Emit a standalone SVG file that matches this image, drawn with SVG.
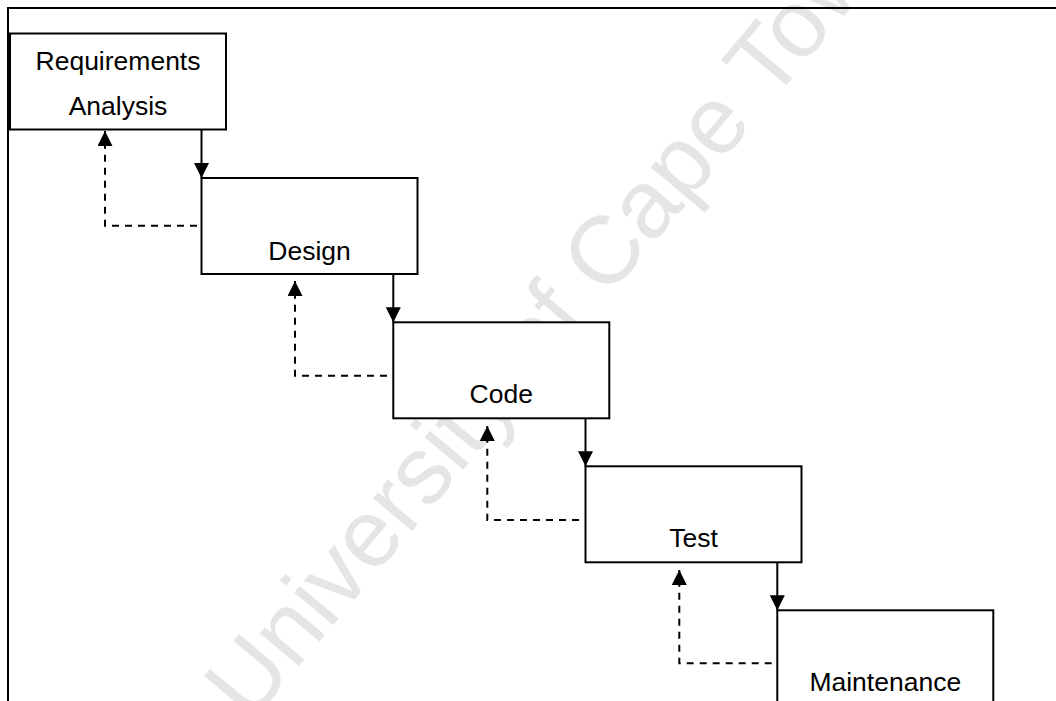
<svg xmlns="http://www.w3.org/2000/svg" width="1056" height="701" viewBox="0 0 1056 701">
  <style>
    .frame { fill: none; stroke: #000; stroke-width: 2; }
    .box { fill: #fff; stroke: #000; stroke-width: 2; }
    .label { font-family: "Liberation Sans", Arial, sans-serif; font-size: 26.5px; fill: #000; text-anchor: middle; }
    .flow { fill: none; stroke: #000; stroke-width: 2; marker-end: url(#head); }
    .back { fill: none; stroke: #000; stroke-width: 2; stroke-dasharray: 7 6; marker-end: url(#head); }
    .mark { font-family: "Liberation Sans", Arial, sans-serif; font-size: 96px; fill: #e5e5e5; }
  </style>
  <defs>
    <marker id="head" markerUnits="userSpaceOnUse" markerWidth="15" markerHeight="15" refX="15" refY="7.5" orient="auto">
      <path d="M0,0 L15,7.5 L0,15 Z" fill="#000" stroke="none"/>
    </marker>
  </defs>

  <rect width="1056" height="701" fill="#fff"/>

  <!-- background watermark, partly hidden behind the boxes -->
  <text class="mark" transform="translate(250,724) rotate(-50)">University of Cape Town</text>

  <!-- page frame (open on the right and bottom) -->
  <path class="frame" d="M8,701 V8 H1056"/>

  <g id="connectors">
    <!-- forward flow -->
    <path class="flow" d="M201.5,129.5 V178"/>
    <path class="flow" d="M393.3,274 V322.3"/>
    <path class="flow" d="M585.5,418.3 V466.3"/>
    <path class="flow" d="M777.3,562.3 V610.3"/>
    <!-- feedback to the previous phase -->
    <path class="back" d="M197,225.7 H105 V131"/>
    <path class="back" d="M387,375.7 H295 V281"/>
    <path class="back" d="M579,520 H487.3 V426"/>
    <path class="back" d="M771.7,663.3 H679.3 V570"/>
  </g>

  <g id="requirements">
    <rect class="box" x="10" y="33.5" width="216" height="96"/>
    <text class="label" x="118" y="70">Requirements</text>
    <text class="label" x="118" y="115">Analysis</text>
  </g>
  <g id="design">
    <rect class="box" x="201.5" y="178" width="216" height="96"/>
    <text class="label" x="309.5" y="260">Design</text>
  </g>
  <g id="code">
    <rect class="box" x="393.3" y="322.3" width="216" height="96"/>
    <text class="label" x="501.3" y="403.3">Code</text>
  </g>
  <g id="test">
    <rect class="box" x="585.5" y="466.3" width="216" height="96"/>
    <text class="label" x="693.5" y="547.3">Test</text>
  </g>
  <g id="maintenance">
    <rect class="box" x="777.3" y="610.3" width="216" height="96"/>
    <text class="label" x="885.3" y="691.3">Maintenance</text>
  </g>
</svg>
